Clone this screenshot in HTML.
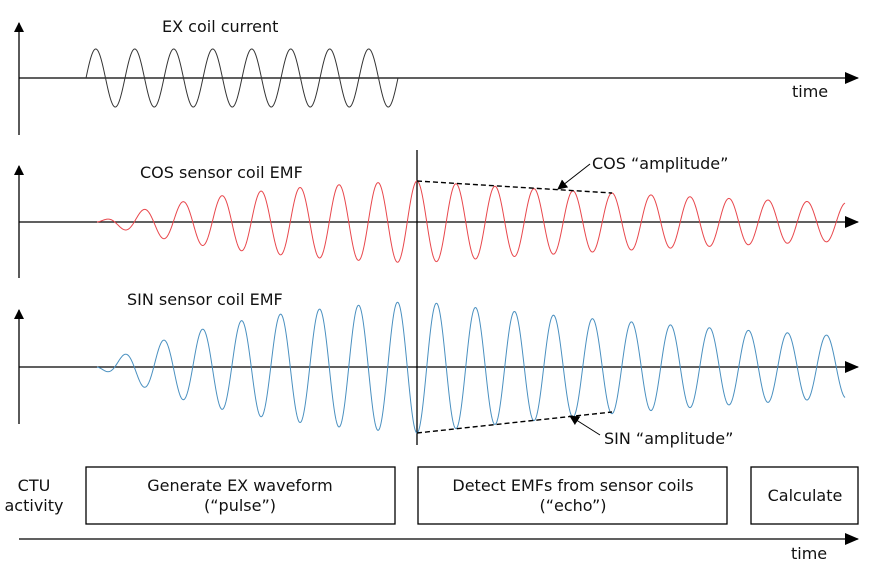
<!DOCTYPE html>
<html><head><meta charset="utf-8"><style>
html,body{margin:0;padding:0;background:#fff;}
svg{display:block;}
text{font-family:"DejaVu Sans","Liberation Sans",sans-serif;font-size:16px;fill:#111;}
</style></head><body>
<svg id="s" width="874" height="563" viewBox="0 0 874 563" xmlns="http://www.w3.org/2000/svg">
<defs><marker id="ah" markerWidth="10" markerHeight="10" refX="9" refY="5" orient="auto" markerUnits="userSpaceOnUse"><path d="M0,0 L10,5 L0,10 z" fill="#000"/></marker>
<marker id="ah2" markerWidth="14" markerHeight="12" refX="13" refY="6" orient="auto" markerUnits="userSpaceOnUse"><path d="M0,0 L14,6 L0,12 z" fill="#000"/></marker></defs>
<g stroke="#000" stroke-width="1.3" fill="none">
<line x1="19" y1="135" x2="19" y2="23" marker-end="url(#ah)"/>
<line x1="19" y1="78" x2="858" y2="78" marker-end="url(#ah2)"/>
<line x1="19" y1="278" x2="19" y2="166" marker-end="url(#ah)"/>
<line x1="19" y1="222" x2="858" y2="222" marker-end="url(#ah2)"/>
<line x1="19" y1="424" x2="19" y2="310" marker-end="url(#ah)"/>
<line x1="19" y1="367" x2="858" y2="367" marker-end="url(#ah2)"/>
<line x1="19" y1="539" x2="858" y2="539" marker-end="url(#ah2)"/>
<line x1="417" y1="150" x2="417" y2="445"/>
<rect x="86" y="467" width="309" height="57"/>
<rect x="418" y="467" width="309" height="57"/>
<rect x="751" y="467" width="107" height="57"/>
</g>
<path id="ex" stroke="#333" stroke-width="1" fill="none"/>
<path id="cos" stroke="#e8474c" stroke-width="1" fill="none"/>
<path id="sin" stroke="#4a90c0" stroke-width="1" fill="none"/>
<g stroke="#000" stroke-width="1.4" stroke-dasharray="5,3" fill="none">
<line x1="417" y1="181" x2="612" y2="193"/>
<line x1="417" y1="433" x2="612" y2="412"/>
</g>
<g stroke="#000" stroke-width="1" fill="none">
<line x1="590" y1="164" x2="558" y2="189" marker-end="url(#ah)"/>
<line x1="600" y1="435" x2="570" y2="416" marker-end="url(#ah)"/>
</g>
<text x="162" y="32">EX coil current</text>
<text x="140" y="178">COS sensor coil EMF</text>
<text x="127" y="305">SIN sensor coil EMF</text>
<text x="592" y="169">COS “amplitude”</text>
<text x="604" y="444">SIN “amplitude”</text>
<text x="792" y="97">time</text>
<text x="791" y="559">time</text>
<text x="34" y="491" text-anchor="middle">CTU</text>
<text x="34" y="511" text-anchor="middle">activity</text>
<text x="240" y="491" text-anchor="middle">Generate EX waveform</text>
<text x="240" y="511" text-anchor="middle">(“pulse”)</text>
<text x="573" y="491" text-anchor="middle">Detect EMFs from sensor coils</text>
<text x="573" y="511" text-anchor="middle">(“echo”)</text>
<text x="805" y="501" text-anchor="middle">Calculate</text>
</svg>
<script>
var P=39,T=2*Math.PI;
function env(x,A){if(x<=417)return A*(1-Math.exp(-(x-97)/150))/(1-Math.exp(-320/150));return A*Math.exp(-(x-417)/563);}
var d="";for(var x=86;x<=398;x+=0.5){d+=(d?"L":"M")+x+","+(78-29*Math.sin(T*(x-86)/P)).toFixed(2);}
document.getElementById("ex").setAttribute("d",d);
var c="",s="";for(var x=97;x<=845;x+=0.5){var ph=T*(x-417)/P;
c+=(c?"L":"M")+x+","+(222-env(x,41)*Math.cos(ph)).toFixed(2);
s+=(s?"L":"M")+x+","+(367+env(x,66)*Math.cos(ph)).toFixed(2);}
document.getElementById("cos").setAttribute("d",c);
document.getElementById("sin").setAttribute("d",s);
</script>
</body></html>
